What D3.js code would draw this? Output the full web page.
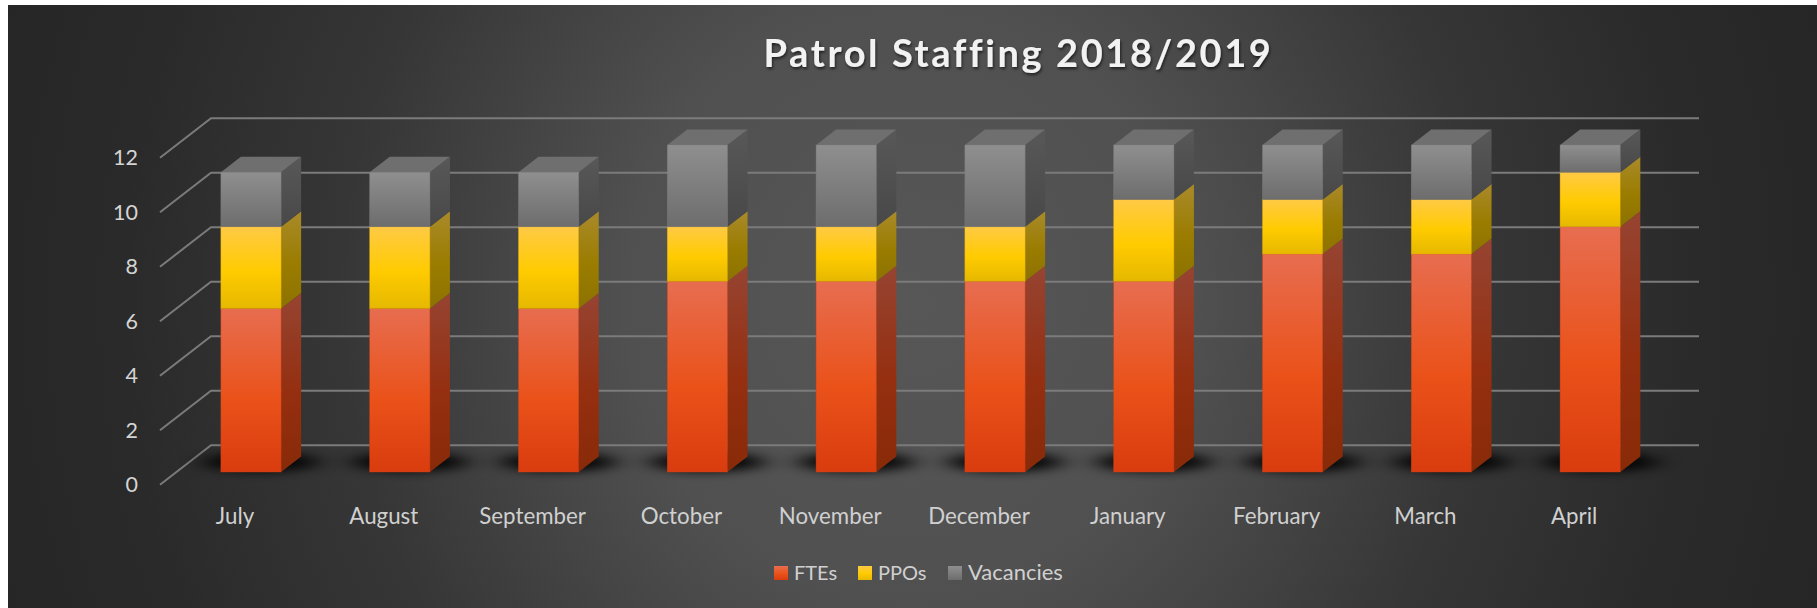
<!DOCTYPE html>
<html><head><meta charset="utf-8">
<script src="https://cdn.jsdelivr.net/npm/d3@7/dist/d3.min.js"></script>
<style>
html,body{margin:0;padding:0;background:#fff;overflow:hidden}
svg{display:block;font-family:Lato,"Open Sans",sans-serif}
</style></head><body>
<svg id="c" width="1817" height="608"></svg>
<script>
const categories = ["July","August","September","October","November","December","January","February","March","April"];
const FTEs = [6,6,6,7,7,7,7,8,8,9];
const PPOs = [3,3,3,2,2,2,3,2,2,2];
const Vacancies = [2,2,2,3,3,3,2,2,2,1];
const seriesNames = ["FTEs","PPOs","Vacancies"];
const yTicks = [0,2,4,6,8,10,12];
const titleText = "Patrol Staffing 2018/2019";

const svg = d3.select("#c");
const defs = svg.append("defs");
const stops = (id, arr) => {
  const g = defs.append("linearGradient").attr("id", id).attr("x1",0).attr("y1",0).attr("x2",0).attr("y2",1);
  arr.forEach(([o,c]) => g.append("stop").attr("offset",o).attr("stop-color",c));
};
stops("f0",[[0,"#e76d50"],[.55,"#ea521a"],[1,"#d93c0e"]]);
stops("f1",[[0,"#ffca45"],[.55,"#ffcb00"],[1,"#e5b800"]]);
stops("f2",[[0,"#8f8f8f"],[1,"#6d6d6d"]]);
stops("s0",[[0,"#964432"],[.55,"#952f10"],[1,"#882a08"]]);
stops("s1",[[0,"#a98a2a"],[.55,"#9a7c00"],[1,"#8c7200"]]);
stops("s2",[[0,"#585858"],[1,"#484848"]]);
const topCol = ["#8d3e2c","#a58626","#6f6f6f"];
const edge = ["#c9401a","#e0a800","#7c7c7c"];
const bg = defs.append("radialGradient").attr("id","bg").attr("gradientUnits","userSpaceOnUse")
  .attr("cx",0).attr("cy",0).attr("r",1)
  .attr("gradientTransform","translate(910,300) scale(950,1000)");
[[0,"#575757"],[.3,"#505050"],[.45,"#434343"],[.6,"#363636"],[.83,"#2a2a2a"],[1,"#262626"]].forEach(([o,c]) => bg.append("stop").attr("offset",o).attr("stop-color",c));
const blur = defs.append("filter").attr("id","blur").attr("x","-50%").attr("y","-150%").attr("width","200%").attr("height","400%");
blur.append("feGaussianBlur").attr("stdDeviation","13 5");
const ts = defs.append("filter").attr("id","ts").attr("x","-5%").attr("y","-20%").attr("width","110%").attr("height","150%");
ts.append("feDropShadow").attr("dx",1).attr("dy",2).attr("stdDeviation",1.5).attr("flood-color","#000").attr("flood-opacity",.6);

svg.append("rect").attr("x",8).attr("y",5).attr("width",1809).attr("height",603).attr("fill","url(#bg)");

const stacked = categories.map((c,i) => ({c, v:[FTEs[i],PPOs[i],Vacancies[i]]}));
const x = d3.scaleBand().domain(categories).range([176.6,1664.6]).paddingInner(.595).paddingOuter(.2975);
const y = d3.scaleLinear().domain([0,12]).range([472,145]);
const dx = 20, dy = -15.5;
const wallFront = 12.7, wallBackX = 51, wallBackY = -39.4, axisX = 160, gridEnd = 1699;

// gridlines
const grid = svg.append("g").attr("fill","none").attr("stroke","#7b7b7b").attr("stroke-width",2);
yTicks.forEach(t => {
  const yf = y(t)+wallFront;
  grid.append("path").attr("d",d3.line()([[axisX,yf],[axisX+wallBackX,yf+wallBackY],[gridEnd,yf+wallBackY]]));
});

// base shadows
svg.append("g").selectAll("ellipse").data(stacked).join("ellipse")
  .attr("cx",d=>x(d.c)+x.bandwidth()/2+dx*.5).attr("cy",y(0)-10)
  .attr("rx",x.bandwidth()*.95).attr("ry",10)
  .attr("fill","#000").attr("opacity",.9).attr("filter","url(#blur)");

// bars
const bars = svg.append("g").selectAll("g").data(stacked).join("g");
bars.each(function(d){
  const g = d3.select(this), l = x(d.c), w = x.bandwidth(), r = l+w;
  let acc = 0;
  d.v.forEach((v,s) => {
    const y0 = y(acc), y1 = y(acc+v);
    acc += v;
    g.append("path").attr("fill",`url(#s${s})`)
      .attr("d",`M${r},${y0}L${r+dx},${y0+dy}L${r+dx},${y1+dy}L${r},${y1}Z`);
    if (s===2) g.append("path").attr("fill",topCol[s])
      .attr("d",`M${l},${y1}L${l+dx},${y1+dy}L${r+dx},${y1+dy}L${r},${y1}Z`);
    g.append("rect").attr("x",l).attr("y",y1).attr("width",w).attr("height",y0-y1)
      .attr("fill",`url(#f${s})`).attr("stroke",edge[s]).attr("stroke-width",.6).attr("stroke-opacity",.7);
  });
});

// value axis
const yAxis = svg.append("g").attr("transform",`translate(138,${wallFront})`)
  .call(d3.axisLeft(y).tickValues(yTicks).tickSize(0).tickPadding(0));
yAxis.select(".domain").remove();
yAxis.selectAll("text").attr("fill","#d4d4d4").style("font-size","21.5px").style("font-family","Lato");

// category axis
const xAxis = svg.append("g").attr("transform","translate(-16,508)")
  .call(d3.axisBottom(x).tickSize(0).tickPadding(0));
xAxis.select(".domain").remove();
xAxis.selectAll("text").attr("fill","#d0d0d0").style("font-size","22.3px").style("font-family","Lato");

// title
svg.append("text").attr("x",1018.5).attr("y",67).attr("text-anchor","middle")
  .attr("fill","#f2f2f2").attr("font-size",38).attr("font-weight",700)
  .attr("letter-spacing",2.6).attr("filter","url(#ts)").text(titleText);

// legend
const legX = [774,858,948];
const legSize = [20,20,22];
const leg = svg.append("g").selectAll("g").data(seriesNames).join("g")
  .attr("transform",(d,i)=>`translate(${legX[i]},566)`);
leg.append("rect").attr("width",14).attr("height",14).attr("fill",(d,i)=>`url(#f${i})`);
leg.append("text").attr("x",20).attr("y",14).attr("fill","#d0d0d0").attr("font-size",(d,i)=>legSize[i]).text(d=>d);
</script>
</body></html>
